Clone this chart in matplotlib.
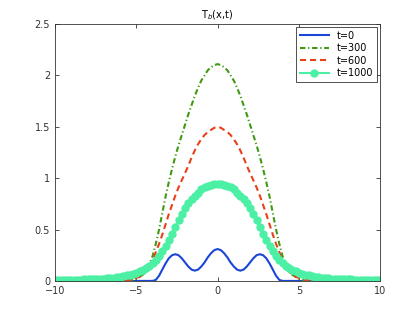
import numpy as np
import matplotlib
matplotlib.use('Agg')
import matplotlib.pyplot as plt

# grid used for all curves: -10 .. 10, step 0.2 (101 points)
x = np.linspace(-10, 10, 101)

# values, left half (x=-10 .. -0.2), centre, right half (0.2 .. 10)
t0_left = [0.0] * 31 + [0.01, 0.05, 0.11, 0.17, 0.22, 0.25, 0.26, 0.25, 0.22, 0.18,
                        0.14, 0.11, 0.10, 0.11, 0.14, 0.18, 0.23, 0.27, 0.30]
t0_mid = [0.31]
t0_right = [0.30, 0.27, 0.23, 0.18, 0.14, 0.11, 0.10, 0.11, 0.14, 0.18,
            0.22, 0.25, 0.26, 0.25, 0.22, 0.17, 0.11, 0.05, 0.01] + [0.0] * 31

t300_left = [0.0] * 23 + [0.005, 0.01, 0.02, 0.04, 0.06, 0.10, 0.16, 0.24, 0.36, 0.50,
                          0.66, 0.82, 0.96, 1.09, 1.21, 1.32, 1.42, 1.52, 1.62, 1.71,
                          1.80, 1.88, 1.95, 2.00, 2.05, 2.08, 2.10]
t300_mid = [2.11]
t300_right = [2.10, 2.08, 2.05, 2.00, 1.95, 1.88, 1.80, 1.71, 1.62, 1.52,
              1.42, 1.32, 1.21, 1.09, 0.96, 0.82, 0.66, 0.50, 0.36, 0.24,
              0.16, 0.10, 0.06, 0.04, 0.02, 0.01, 0.005] + [0.0] * 23

t600_left = [0.0] * 22 + [0.005, 0.01, 0.02, 0.03, 0.04, 0.06, 0.09, 0.14, 0.20, 0.28,
                          0.36, 0.45, 0.55, 0.65, 0.74, 0.83, 0.91, 0.98, 1.05, 1.12,
                          1.20, 1.27, 1.33, 1.38, 1.42, 1.45, 1.47, 1.49]
t600_mid = [1.50]
t600_right = [1.49, 1.47, 1.45, 1.42, 1.38, 1.33, 1.27, 1.20, 1.12, 1.05,
              0.98, 0.91, 0.83, 0.74, 0.65, 0.55, 0.45, 0.36, 0.28, 0.20,
              0.14, 0.09, 0.06, 0.04, 0.03, 0.02, 0.01, 0.005] + [0.0] * 22

t1000_left = [0.008, 0.008, 0.009, 0.009, 0.010, 0.010, 0.011, 0.012, 0.013, 0.014,
              0.015, 0.016, 0.018, 0.019, 0.021, 0.023, 0.026, 0.029, 0.032, 0.036,
              0.041, 0.047, 0.054, 0.061, 0.070, 0.080, 0.093, 0.108, 0.125, 0.145,
              0.17, 0.20, 0.24, 0.29, 0.34, 0.40, 0.46, 0.52, 0.59, 0.65,
              0.71, 0.76, 0.80, 0.83, 0.86, 0.89, 0.91, 0.92, 0.93, 0.94]
t1000_mid = [0.94]
t1000_right = [0.94, 0.93, 0.92, 0.91, 0.89, 0.86, 0.83, 0.80, 0.76, 0.71,
               0.65, 0.59, 0.52, 0.46, 0.40, 0.34, 0.29, 0.24, 0.20, 0.17,
               0.145, 0.125, 0.108, 0.093, 0.080, 0.070, 0.061, 0.054, 0.047, 0.041,
               0.036, 0.032, 0.029, 0.026, 0.023, 0.021, 0.019, 0.018, 0.016, 0.015,
               0.014, 0.013, 0.012, 0.011, 0.010, 0.010, 0.009, 0.009, 0.008, 0.008]

labels = ['t=0', 't=300', 't=600', 't=1000']
xticks = [-10, -5, 0, 5, 10]
yticks = [0, 0.5, 1, 1.5, 2, 2.5]
yticklabels = ['0', '0.5', '1', '1.5', '2', '2.5']

T0 = np.array(t0_left + t0_mid + t0_right)
T300 = np.array(t300_left + t300_mid + t300_right)
T600 = np.array(t600_left + t600_mid + t600_right)
T1000 = np.array(t1000_left + t1000_mid + t1000_right)

fig = plt.figure(figsize=(4.2, 3.16), dpi=100)
ax = fig.add_axes([0.131, 0.111, 0.774, 0.813])

ax.plot(x, T0, '-', color='#1a46d8', lw=1.5, label=labels[0])
ax.plot(x, T300, '-.', color='#3f9a12', lw=1.5, dashes=(2.6, 1.3, 0.6, 1.3),
        label=labels[1])
ax.plot(x, T600, '--', color='#e8401a', lw=1.5, dashes=(2.9, 1.9), label=labels[2])
ax.plot(x, T1000, '-o', color='#4cf0a4', lw=1.5, ms=5, mec='#4cf0a4', mfc='#4cf0a4',
        label=labels[3])

ax.set_xlim(-10, 10)
ax.set_ylim(0, 2.5)
ax.set_xticks(xticks)
ax.set_yticks(yticks)
ax.set_yticklabels(yticklabels)
ax.tick_params(direction='in', top=True, right=True, labelsize=7, colors='#333333',
               length=3, width=0.6)
for s in ax.spines.values():
    s.set_linewidth(0.6)
    s.set_color('#333333')

ax.set_title(r'T$_b$(x,t)', fontsize=7, pad=4)

leg = ax.legend(loc='upper right', fontsize=7, fancybox=False, framealpha=1,
                edgecolor='#333333', handlelength=3, borderpad=0.4,
                labelspacing=0.25, borderaxespad=0.3)
leg.get_frame().set_linewidth(0.6)

fig.savefig('out.png', dpi=100)
